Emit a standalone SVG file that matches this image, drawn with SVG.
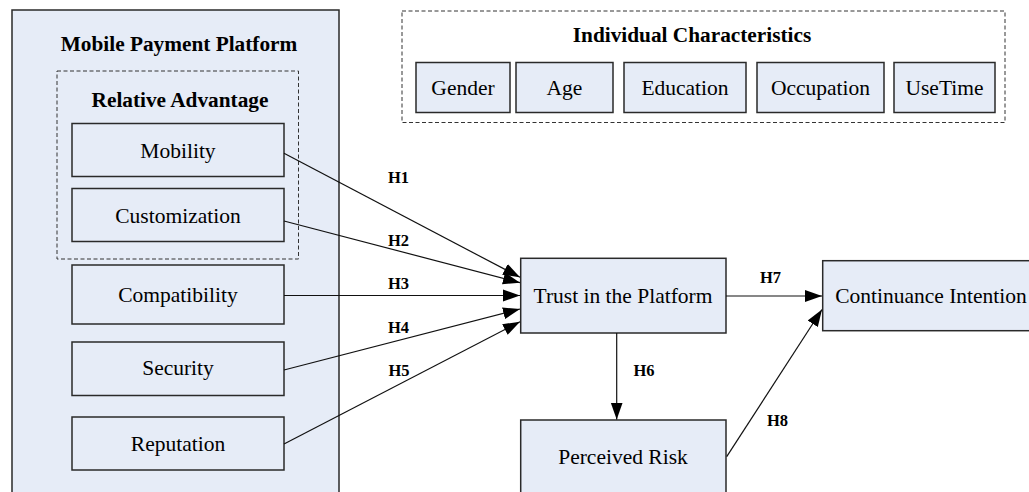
<svg xmlns="http://www.w3.org/2000/svg" width="1029" height="492" viewBox="0 0 1029 492">
<style>
.box{fill:#e6ecf7;stroke:#2a2a2a;stroke-width:1.5}
.dash{fill:none;stroke:#333;stroke-width:1;stroke-dasharray:4 2.5}
.t{font-family:"Liberation Serif","Times New Roman",serif;font-size:21.5px;fill:#000;text-anchor:middle}
.tb{font-family:"Liberation Serif","Times New Roman",serif;font-size:21.3px;font-weight:bold;fill:#000;text-anchor:middle}
.h{font-family:"Liberation Serif","Times New Roman",serif;font-size:16.5px;font-weight:bold;fill:#000;text-anchor:middle}
.c{fill:none;stroke:#111;stroke-width:1.2;marker-end:url(#arr)}
</style>
<defs>
<marker id="arr" markerWidth="18" markerHeight="13" refX="17" refY="6.5" orient="auto" markerUnits="userSpaceOnUse">
<path d="M0,0.5 L17,6.5 L0,12.5 z" fill="#000"/>
</marker>
</defs>
<rect width="1029" height="492" fill="#fff"/>

<g id="mobile-payment-platform">
<rect class="box" x="12" y="10" width="327" height="500" stroke="#222"/>
<text class="tb" x="179" y="51">Mobile Payment Platform</text>
</g>

<g id="relative-advantage">
<rect class="dash" x="57" y="71" width="241.5" height="188"/>
<text class="tb" x="180" y="107">Relative Advantage</text>
</g>

<g id="mobility">
<rect class="box" x="72" y="123.5" width="212" height="53"/>
<text class="t" x="178" y="158">Mobility</text>
</g>
<g id="customization">
<rect class="box" x="72" y="188.5" width="212" height="53"/>
<text class="t" x="178" y="223">Customization</text>
</g>
<g id="compatibility">
<rect class="box" x="72" y="265" width="212" height="59"/>
<text class="t" x="178" y="302">Compatibility</text>
</g>
<g id="security">
<rect class="box" x="72" y="342" width="212" height="53.5"/>
<text class="t" x="178" y="375">Security</text>
</g>
<g id="reputation">
<rect class="box" x="72" y="417" width="212" height="53"/>
<text class="t" x="178" y="451">Reputation</text>
</g>

<g id="individual-characteristics">
<rect class="dash" x="402" y="11" width="603" height="111.5"/>
<text class="tb" x="692" y="42">Individual Characteristics</text>
</g>
<g id="gender">
<rect class="box" x="416" y="62.5" width="94" height="50"/>
<text class="t" x="463" y="95">Gender</text>
</g>
<g id="age">
<rect class="box" x="516" y="62.5" width="97" height="50"/>
<text class="t" x="564.5" y="95">Age</text>
</g>
<g id="education">
<rect class="box" x="624" y="62.5" width="122" height="50"/>
<text class="t" x="685" y="95">Education</text>
</g>
<g id="occupation">
<rect class="box" x="757" y="62.5" width="127" height="50"/>
<text class="t" x="820.5" y="95">Occupation</text>
</g>
<g id="usetime">
<rect class="box" x="894" y="62.5" width="101" height="50"/>
<text class="t" x="944.5" y="95">UseTime</text>
</g>

<g id="trust">
<rect class="box" x="520.7" y="258.3" width="205.3" height="74.7"/>
<text class="t" x="623" y="303">Trust in the Platform</text>
</g>
<g id="continuance">
<rect class="box" x="822.7" y="260.7" width="230" height="70"/>
<text class="t" x="931" y="303">Continuance Intention</text>
</g>
<g id="perceived-risk">
<rect class="box" x="520.7" y="420" width="205.3" height="100"/>
<text class="t" x="623" y="464">Perceived Risk</text>
</g>

<g id="connectors">
<line class="c" x1="284" y1="153.3" x2="520" y2="277.3"/>
<line class="c" x1="284" y1="221" x2="520" y2="282.7"/>
<line class="c" x1="284" y1="295.5" x2="520" y2="295.5"/>
<line class="c" x1="284" y1="370" x2="520" y2="309"/>
<line class="c" x1="284" y1="444" x2="520" y2="321.7"/>
<line class="c" x1="726" y1="296" x2="822" y2="296"/>
<line class="c" x1="616.7" y1="333" x2="616.7" y2="419.5"/>
<line class="c" x1="726.7" y1="456.7" x2="822" y2="309.5"/>
<text class="h" x="398.5" y="183">H1</text>
<text class="h" x="398.5" y="246">H2</text>
<text class="h" x="398.5" y="289">H3</text>
<text class="h" x="398.5" y="333">H4</text>
<text class="h" x="399" y="376">H5</text>
<text class="h" x="644" y="376">H6</text>
<text class="h" x="770.5" y="283">H7</text>
<text class="h" x="777.5" y="426">H8</text>
</g>
</svg>
